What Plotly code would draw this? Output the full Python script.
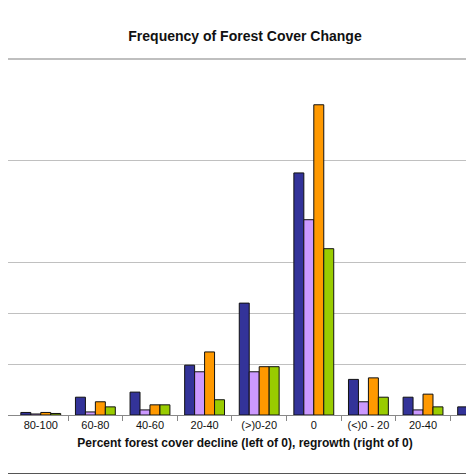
import plotly.graph_objects as go

categories = ["80-100", "60-80", "40-60", "20-40", "(>)0-20", "0", "(<)0 - 20", "20-40", "40-60", "60-80"]
series_names = ["Series 1", "Series 2", "Series 3", "Series 4"]
s1 = [0.05, 0.35, 0.45, 0.98, 2.20, 4.76, 0.70, 0.35, 0.16, 0.06]
s2 = [0.02, 0.06, 0.10, 0.85, 0.85, 3.84, 0.26, 0.10, 0.00, 0.00]
s3 = [0.05, 0.26, 0.20, 1.24, 0.95, 6.10, 0.73, 0.41, 0.06, 0.06]
s4 = [0.03, 0.16, 0.20, 0.30, 0.95, 3.27, 0.35, 0.16, 0.20, 0.04]
colors = ["#333399", "#CC99FF", "#FF9900", "#99CC00"]

xs = list(range(-1, len(categories) - 1))
fig = go.Figure()
for name, vals, c in zip(series_names, [s1, s2, s3, s4], colors):
    fig.add_trace(go.Bar(x=xs, y=vals, name=name, marker=dict(color=c, line=dict(color="#111111", width=1))))

H = 474.0
def py(p):  # pixel y -> paper y
    return (H - 67 - p) / (H - 51 - 67)

shapes = [
    dict(type="line", xref="paper", yref="paper", x0=0, x1=1, y0=1, y1=1, line=dict(color="#aaa", width=1.5)),
    dict(type="line", xref="paper", yref="paper", x0=0, x1=1, y0=py(466), y1=py(466), line=dict(color="#555", width=2)),
    dict(type="rect", xref="paper", yref="paper", x0=464/474, x1=1.01, y0=py(152), y1=py(62),
         line=dict(color="#888", width=1), fillcolor="white"),
]
for i, c in enumerate(colors):
    yc = 73 + i * 23.3
    shapes.append(dict(type="rect", xref="paper", yref="paper", x0=468/474, x1=474/474,
                       y0=py(yc + 4), y1=py(yc - 4), line=dict(color="#222", width=1), fillcolor=c))

fig.update_layout(
    width=474, height=474, barmode="group", bargap=0.27, bargroupgap=0, showlegend=False,
    paper_bgcolor="white", plot_bgcolor="white",
    margin=dict(l=0, r=0, t=51, b=67),
    font=dict(family="Liberation Sans, Arial", color="#111111"),
    title=dict(text="<b>Frequency of Forest Cover Change</b>", x=0.5, xanchor="center",
               y=0.94, yanchor="middle", font=dict(size=14)),
    xaxis=dict(range=[-1.6, 7.08], tickvals=xs, ticktext=categories, ticks="",
               showline=True, linecolor="#888", tickfont=dict(size=11),
               minor=dict(tickvals=[x + 0.5 for x in xs], ticks="outside", ticklen=5, tickcolor="#888"),
               title=dict(text="<b>Percent forest cover decline (left of 0), regrowth (right of 0)</b>",
                          font=dict(size=12), standoff=8)),
    yaxis=dict(range=[0, 7], tickvals=[1, 2, 3, 5], showticklabels=False, showgrid=True,
               gridcolor="#c0c0c0", zeroline=False, showline=False),
    shapes=shapes,
)
fig.write_html("out.html")
